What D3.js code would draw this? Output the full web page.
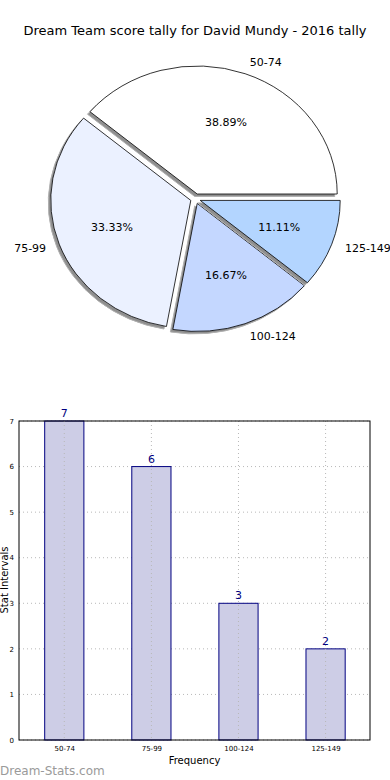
<html>
  <head>
    <title>Dream Team score tally</title>
    <meta charset="utf-8" />
    <script src="https://cdnjs.cloudflare.com/ajax/libs/d3/7.8.5/d3.min.js"></script>
    <style>
      body { margin: 0; background: #fff; }
      svg { display: block; font-family: "DejaVu Sans", sans-serif; }
    </style>
  </head>
  <body>
    <svg width="390" height="780"></svg>
  </body>

  <script>
    // data
    let categories = ["50-74", "75-99", "100-124", "125-149"];
    let counts = [7, 6, 3, 2];
    let sliceColors = ["#ffffff", "#ebf1ff", "#c4d7ff", "#b3d5ff"];
    let yTicks = [0, 1, 2, 3, 4, 5, 6, 7];

    let svg = d3.select("svg");
    let total = d3.sum(counts);

    svg.append("text")
      .attr("x", 195).attr("y", 35)
      .attr("text-anchor", "middle")
      .style("font-size", "13px")
      .text("Dream Team score tally for David Mundy - 2016 tally");

    // ---- pie (matplotlib style: starts at 3 o'clock, counter-clockwise, elliptical axes)
    let cx = 195.5, cy = 198.7, rx = 140, ry = 128, explode = 5;
    let pie = d3.pie().sort(null).startAngle(Math.PI / 2).endAngle(Math.PI / 2 - 2 * Math.PI);
    let arcs = pie(counts);
    let unitArc = d3.arc().innerRadius(0).outerRadius(1);

    // mid angle as screen direction (d3 angle: clockwise from 12 o'clock)
    let dir = (d) => {
      let a = (d.startAngle + d.endAngle) / 2;
      return [Math.sin(a), -Math.cos(a)];
    };

    let slices = svg.append("g").selectAll("g.slice")
      .data(arcs)
      .enter()
      .append("g")
      .attr("class", "slice")
      .attr("transform", (d) => {
        let [ux, uy] = dir(d);
        return `translate(${cx + ux * explode},${cy + uy * explode})`;
      });

    // shadows first
    slices.append("path")
      .attr("transform", `translate(-2.5,2.5) scale(${rx},${ry})`)
      .attr("d", unitArc)
      .style("fill", "#8f8f8f")
      .style("stroke", "#b0b0b0")
      .style("stroke-width", 1)
      .attr("vector-effect", "non-scaling-stroke");

    slices.append("path")
      .attr("transform", `scale(${rx},${ry})`)
      .attr("d", unitArc)
      .style("fill", (d, i) => sliceColors[i])
      .style("stroke", "#000")
      .style("stroke-width", 0.8)
      .attr("vector-effect", "non-scaling-stroke");

    slices.append("text")
      .attr("x", (d) => dir(d)[0] * rx * 0.6)
      .attr("y", (d) => dir(d)[1] * ry * 0.6)
      .attr("dy", "0.35em")
      .attr("text-anchor", "middle")
      .style("font-size", "11px")
      .text((d) => (d.value / total * 100).toFixed(2) + "%");

    slices.append("text")
      .attr("x", (d) => dir(d)[0] * rx * 1.1)
      .attr("y", (d) => dir(d)[1] * ry * 1.1)
      .attr("dy", "0.35em")
      .attr("text-anchor", (d) => (dir(d)[0] > 0 ? "start" : "end"))
      .style("font-size", "11px")
      .text((d, i) => categories[i]);

    // ---- bar chart
    let plotL = 19, plotR = 370, plotT = 421, plotB = 740;
    let x = d3.scaleLinear().domain([-0.52, 3.51]).range([plotL, plotR]);
    let y = d3.scaleLinear().domain([0, 7]).range([plotB, plotT]);
    let barW = 0.45;

    let grid = svg.append("g")
      .style("stroke", "#b8b8b8")
      .style("stroke-width", 1)
      .style("stroke-dasharray", "1,3");
    grid.selectAll("line.gy")
      .data(yTicks)
      .enter()
      .append("line")
      .attr("x1", plotL).attr("x2", plotR)
      .attr("y1", (d) => y(d)).attr("y2", (d) => y(d));

    svg.append("g").selectAll("rect")
      .data(counts)
      .enter()
      .append("rect")
      .attr("x", (d, i) => x(i - barW / 2))
      .attr("width", (d, i) => x(barW) - x(0))
      .attr("y", (d) => y(d))
      .attr("height", (d) => y(0) - y(d))
      .style("fill", "#cdcde6")
      .style("stroke", "#000080")
      .style("stroke-width", 1);

    let gridX = svg.append("g")
      .style("stroke", "#b8b8b8")
      .style("stroke-width", 1)
      .style("stroke-dasharray", "1,3");
    gridX.selectAll("line")
      .data(categories)
      .enter()
      .append("line")
      .attr("x1", (d, i) => x(i)).attr("x2", (d, i) => x(i))
      .attr("y1", plotT).attr("y2", plotB);

    svg.append("g").selectAll("text")
      .data(counts)
      .enter()
      .append("text")
      .attr("x", (d, i) => x(i))
      .attr("y", (d) => y(d) - 4)
      .attr("text-anchor", "middle")
      .style("font-size", "11px")
      .style("fill", "#000080")
      .text((d) => d);

    let yAxis = d3.axisLeft(y).tickValues(yTicks).tickFormat(d3.format("d"))
      .tickSize(0).tickPadding(5);
    svg.append("g")
      .attr("transform", `translate(${plotL},0)`)
      .call(yAxis)
      .call((g) => g.select(".domain").remove())
      .selectAll("text")
      .style("font-family", "DejaVu Sans, sans-serif")
      .style("font-size", "7px");

    let xAxis = d3.axisBottom(x).tickValues([0, 1, 2, 3])
      .tickFormat((d) => categories[d]).tickSize(0).tickPadding(6);
    svg.append("g")
      .attr("transform", `translate(0,${plotB})`)
      .call(xAxis)
      .call((g) => g.select(".domain").remove())
      .selectAll("text")
      .style("font-family", "DejaVu Sans, sans-serif")
      .style("font-size", "7px");

    svg.append("rect")
      .attr("x", plotL).attr("y", plotT)
      .attr("width", plotR - plotL).attr("height", plotB - plotT)
      .style("fill", "none")
      .style("stroke", "#000")
      .style("stroke-width", 1);

    svg.append("text")
      .attr("x", (plotL + plotR) / 2).attr("y", 764)
      .attr("text-anchor", "middle")
      .style("font-size", "10px")
      .text("Frequency");

    svg.append("text")
      .attr("transform", "translate(8,580) rotate(-90)")
      .attr("text-anchor", "middle")
      .style("font-size", "10px")
      .text("Stat Intervals");

    svg.append("text")
      .attr("x", 0).attr("y", 775)
      .style("font-size", "12px")
      .style("fill", "#9a9a9a")
      .text("Dream-Stats.com");
  </script>
</html>
